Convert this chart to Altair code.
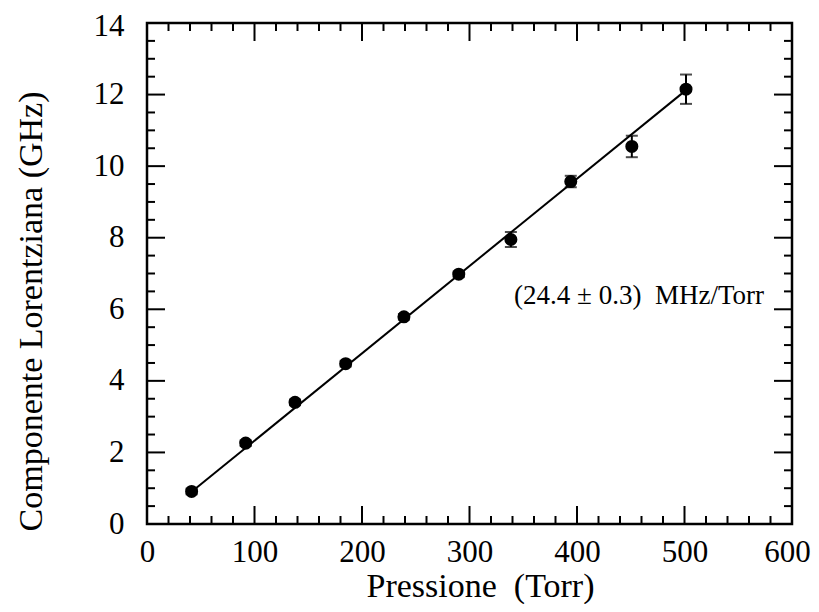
import altair as alt
import pandas as pd

# ---- data ----
pressure = [41.5, 91.8, 137.7, 184.8, 239.0, 290.0, 338.5, 394.2, 451.0, 501.4]
lorentz = [0.91, 2.26, 3.40, 4.48, 5.79, 6.98, 7.95, 9.57, 10.55, 12.15]
errors = [0.08, 0.08, 0.08, 0.08, 0.08, 0.08, 0.21, 0.16, 0.30, 0.41]

fit_x = [41.5, 500.0]
fit_y = [0.90, 12.09]

x_major = [100, 200, 300, 400, 500]
x_minor = [v for v in range(20, 600, 20) if v % 100 != 0]
y_major = [2, 4, 6, 8, 10, 12]
y_minor = [v / 2 for v in range(1, 28) if v % 4 != 0]

x_labels = [0, 100, 200, 300, 400, 500, 600]
y_labels = [0, 2, 4, 6, 8, 10, 12, 14]

annotation = "(24.4 ± 0.3)\u00a0 MHz/Torr"

W, H = 645, 501
FONT = "Liberation Serif"
MAJ, MIN = 18, 8

pts = pd.DataFrame({"p": pressure, "g": lorentz, "e": errors})
pts["lo"] = pts["g"] - pts["e"]
pts["hi"] = pts["g"] + pts["e"]
fit = pd.DataFrame({"p": fit_x, "g": fit_y})

xs = alt.Scale(domain=[0, 600], nice=False, zero=False)
ys = alt.Scale(domain=[0, 14], nice=False, zero=False)

xaxis = alt.Axis(values=x_labels, ticks=False, domain=False, grid=False,
                 labelFont=FONT, labelFontSize=31, labelColor="black",
                 labelPadding=13, labelFlush=False,
                 labelOffset=alt.ExprRef(expr="datum.value == 600 ? -5 : 0"),
                 title="Pressione\u00a0 (Torr)",
                 titleFont=FONT, titleFontSize=34, titleFontWeight="normal",
                 titleColor="black", titleX=333, titleY=62,
                 titleBaseline="middle", titleAlign="center")
yaxis = alt.Axis(values=y_labels, ticks=False, domain=False, grid=False,
                 labelFont=FONT, labelFontSize=31, labelColor="black",
                 labelPadding=23, labelFlush=False,
                 labelOffset=alt.ExprRef(expr="datum.value == 14 ? 3 : 0"),
                 title="Componente Lorentziana (GHz)",
                 titleFont=FONT, titleFontSize=34, titleFontWeight="normal",
                 titleColor="black", titleX=-116, titleY=288,
                 titleAngle=-90, titleBaseline="middle", titleAlign="center")


def X(field):
    return alt.X(field, scale=xs, axis=xaxis)


def Y(field):
    return alt.Y(field, scale=ys, axis=yaxis)


base = alt.Chart(pts)

line = alt.Chart(fit).mark_line(color="black", strokeWidth=2).encode(
    x=X("p:Q"), y=Y("g:Q"))

bars = base.mark_rule(color="black", strokeWidth=2).encode(
    x=X("p:Q"), y=Y("lo:Q"), y2="hi:Q")
cap_lo = base.mark_tick(color="black", thickness=2, size=12, orient="horizontal").encode(
    x=X("p:Q"), y=Y("lo:Q"))
cap_hi = base.mark_tick(color="black", thickness=2, size=12, orient="horizontal").encode(
    x=X("p:Q"), y=Y("hi:Q"))
dots = base.mark_circle(color="black", opacity=1, size=170).encode(
    x=X("p:Q"), y=Y("g:Q"))


def xticks(vals, length):
    d = alt.Chart(pd.DataFrame({"v": vals}))
    bot = d.mark_rule(color="black", strokeWidth=2).encode(
        x=X("v:Q"), y=alt.value(H), y2=alt.value(H - length))
    top = d.mark_rule(color="black", strokeWidth=2).encode(
        x=X("v:Q"), y=alt.value(0), y2=alt.value(length))
    return [bot, top]


def yticks(vals, length):
    d = alt.Chart(pd.DataFrame({"v": vals}))
    left = d.mark_rule(color="black", strokeWidth=2).encode(
        y=Y("v:Q"), x=alt.value(0), x2=alt.value(length))
    right = d.mark_rule(color="black", strokeWidth=2).encode(
        y=Y("v:Q"), x=alt.value(W), x2=alt.value(W - length))
    return [left, right]


label = alt.Chart(pd.DataFrame({"t": [annotation]})).mark_text(
    font=FONT, fontSize=27, color="black", align="left", baseline="middle"
).encode(
    text="t:N",
    x=alt.datum(341.5, scale=xs, axis=xaxis),
    y=alt.datum(6.38, scale=ys, axis=yaxis),
)

layers = [line, bars, cap_lo, cap_hi, dots, label]
layers += xticks(x_major, MAJ) + xticks(x_minor, MIN)
layers += yticks(y_major, MAJ) + yticks(y_minor, MIN)

chart = alt.layer(*layers).properties(
    width=W, height=H,
    autosize=alt.AutoSizeParams(type="none"),
    padding={"left": 139, "top": 15, "right": 19, "bottom": 80},
    background="white",
).configure_view(stroke="black", strokeWidth=2.5)

chart.save("out.html", embed_options={"renderer": "svg", "actions": False})
